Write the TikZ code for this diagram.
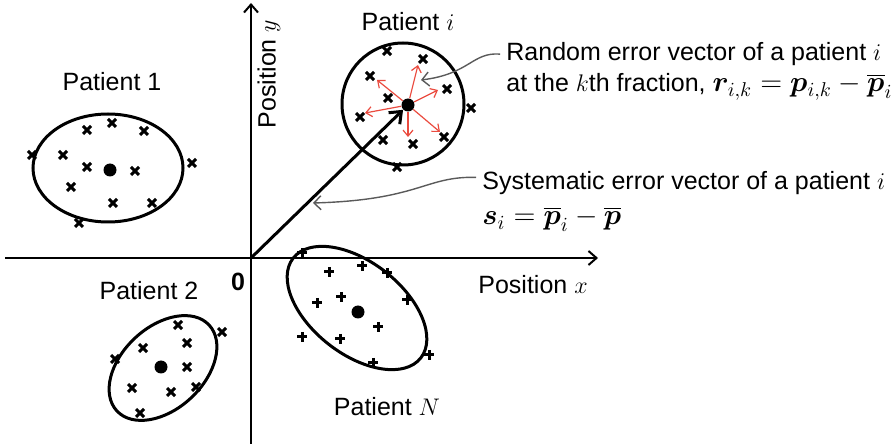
\documentclass[tikz,border=0pt]{standalone}
\usepackage{fontspec}
\setmainfont{Liberation Sans}
\usepackage{amsmath,bm}
\usetikzlibrary{positioning, arrows.meta, calc}
\definecolor{errred}{HTML}{EA4B3F}
\definecolor{leadgray}{HTML}{5A5A5A}
\newcommand{\bigmath}{\fontsize{14}{15}\selectfont}

\begin{document}
\begin{tikzpicture}[
    x=0.5pt, y=-0.5pt,
    font=\fontsize{12.5}{15}\selectfont,
    axis/.style={line width=1pt, black},
    cloud/.style={line width=1.5pt, black},
    meanpt/.style={circle, fill=black, inner sep=0pt, minimum size=6.5pt},
    notetext/.style={inner sep=0pt, anchor=base west},
    randarrow/.style={-{Straight Barb[length=3pt,width=5pt]}, errred, line width=0.6pt},
    sysarrow/.style={-{Straight Barb[length=5pt,width=8pt]}, line width=1.5pt},
    leader/.style={-{Straight Barb[length=3.5pt,width=7pt]}, leadgray, line width=0.7pt, shorten <=3pt},
    xmark/.pic={\draw[line width=1.5pt] (-4,-4) -- (4,4) (-4,4) -- (4,-4);},
    pmark/.pic={\draw[line width=1.5pt] (-5,0) -- (5,0) (0,-5) -- (0,5);}
  ]
  \useasboundingbox (0,0) rectangle (896,444);

  \coordinate (O) at (251,258);
  \coordinate (ytop) at (251,3);
  \coordinate (ybot) at (251,444);
  \coordinate (xleft) at (5,258);
  \coordinate (xright) at (598,258);
  \draw[axis, -{Straight Barb[length=4pt,width=7pt]}] (ybot) -- (ytop);
  \draw[axis, -{Straight Barb[length=4pt,width=7pt]}] (xleft) -- (xright);
  \node[font=\fontsize{12.5}{15}\selectfont\bfseries] (zero) at (238,282) {0};
  \node[rotate=90] (ylab) at (269,74) {Position $y$};
  \node (xlab) at (533,285) {Position $x$};

  % patient 1
  \draw[cloud] (108,168) ellipse [x radius=75, y radius=54];
  \node[meanpt] (mone) at (110,170) {};
  \foreach \x/\y in {112/123, 87/130, 144/131, 32/155, 63/155, 87/167,
                     135/171, 192/163, 71/187, 113/203, 152/203, 79/223}
    \pic at (\x,\y) {xmark};
  \node (tone) at (112,82) {Patient 1};

  % patient i
  \draw[cloud] (403,104) circle [radius=61];
  \node[meanpt] (mi) at (408,105) {};
  \foreach \x/\y in {387/51, 423/59, 370/76, 447/89, 388/98, 471/108,
                     360/117, 383/140, 413/144, 444/137, 397/167}
    \pic at (\x,\y) {xmark};
  \foreach \x/\y [count=\k] in {418/65, 377/80, 438/90, 365/113, 408/137, 440/132} {
    \coordinate (rk\k) at (\x,\y);
    \draw[randarrow] (mi) -- (rk\k);
  }
  \node (ti) at (408,22) {Patient $i$};
  \draw[sysarrow] (O) -- (mi);

  % patient 2
  \draw[cloud, rotate around={43:(163,368)}] (163,368) ellipse [x radius=63, y radius=41];
  \node[meanpt] (mtwo) at (161,367) {};
  \foreach \x/\y in {178/325, 222/332, 143/348, 187/343, 115/359,
                     187/367, 132/388, 171/392, 196/387, 140/413}
    \pic at (\x,\y) {xmark};
  \node (ttwo) at (149,291) {Patient 2};

  % patient N
  \draw[cloud, rotate around={-38:(357,308)}] (357,308) ellipse [x radius=81, y radius=46];
  \node[meanpt] (mN) at (358,312) {};
  \foreach \x/\y in {302/253, 329/272, 362/266, 387/273, 317/303, 341/297,
                     407/300, 378/327, 302/337, 340/339, 373/363, 429/355}
    \pic at (\x,\y) {pmark};
  \node (tN) at (387,407) {Patient $N$};

  % notes
  \node[notetext] (rline1) at (506,61) {Random error vector of a patient $i$};
  \node[notetext] (rline2) at (506,92) {at the $k$th fraction,\ {\bigmath$\bm{r}_{i,k}=\bm{p}_{i,k}-\overline{\bm{p}}_i$}};
  \node[notetext] (sline1) at (482,190) {Systematic error vector of a patient $i$};
  \node[notetext] (sline2) at (482,225) {\bigmath$\bm{s}_i=\overline{\bm{p}}_i-\overline{\bm{p}}$};
  \coordinate (rtip) at (421,80);
  \coordinate (stip) at (313,203);
  \draw[leader] (rline1.west) .. controls (472,52) and (470,74) .. (rtip);
  \draw[leader] ([yshift=3pt]sline1.west) .. controls (425,176) and (420,200) .. (stip);
\end{tikzpicture}
\end{document}
